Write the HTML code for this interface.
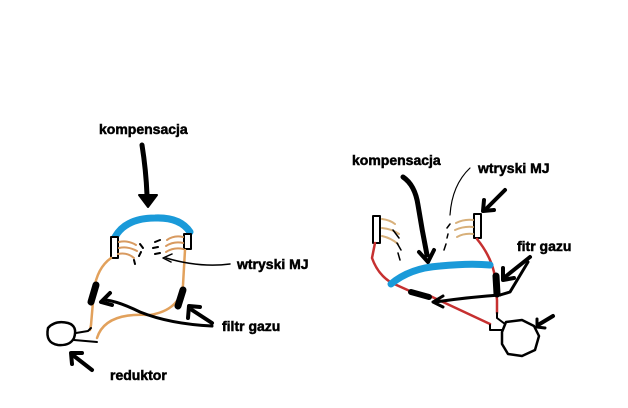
<!DOCTYPE html>
<html><head><style>
html,body{margin:0;padding:0;background:#fff;}
svg{display:block;}
text{font-family:"Liberation Sans",Arial,sans-serif;font-weight:bold;font-size:14px;fill:#000;stroke:#000;stroke-width:0.5px;}
</style></head><body>
<svg width="628" height="408" viewBox="0 0 628 408" xmlns="http://www.w3.org/2000/svg">
<text x="99" y="134">kompensacja</text>
<text x="237" y="269">wtryski MJ</text>
<text x="222" y="331">filtr gazu</text>
<text x="110" y="380">reduktor</text>
<text x="352" y="165">kompensacja</text>
<text x="478" y="173">wtryski MJ</text>
<text x="517" y="251">fitr gazu</text>
<g fill="none" stroke-linecap="round" stroke-linejoin="round">
<!-- LEFT DIAGRAM -->
<path d="M142 145 Q146 170 147 195" stroke="#000" stroke-width="5"/>
<path d="M139 195 L157 195 L148 207 Z" fill="#000" stroke="#000" stroke-width="2"/>
<path d="M115 237 Q126 218 155 218 Q180 217 190 232" stroke="#1a9ad9" stroke-width="7"/>
<rect x="111" y="237" width="7" height="21" stroke="#000" stroke-width="2" fill="#fff"/>
<rect x="184" y="234" width="7" height="15" stroke="#000" stroke-width="2" fill="#fff"/>
<path d="M119 242 Q128 240 136 245 M119 248 Q128 246 137 251 M118 254 Q127 252 134 258" stroke="#d89a60" stroke-width="2"/>
<path d="M183 237 Q174 235 167 240 M183 243 Q174 241 166 246 M183 249 Q174 247 166 252" stroke="#d89a60" stroke-width="2"/>
<path d="M140 244 L143 248 M141 252 L139 256 M134 260 L135 264 M160 240 L155 242 M158 247 L153 248 M160 253 L155 254" stroke="#000" stroke-width="2"/>
<path d="M111 258 Q97 268 94 290 L91 325 L90 330" stroke="#e2a15c" stroke-width="2.5"/>
<path d="M185 250 L183 285 Q180 310 150 315 Q105 312 97 338" stroke="#e2a15c" stroke-width="2.5"/>
<path d="M96 285 L91 302" stroke="#000" stroke-width="7"/>
<path d="M183 290 L178 306" stroke="#000" stroke-width="7"/>
<path d="M48 328 Q55 320 68 323 Q78 326 74 338 Q70 346 58 345 Q45 343 48 328 Z" stroke="#000" stroke-width="2.5"/>
<path d="M76 333 L88 331 L91 328 M74 340 L97 342" stroke="#000" stroke-width="2"/>
<path d="M230 264 Q200 268 166 258" stroke="#000" stroke-width="1.5"/>
<path d="M172 254 L163 258 L171 262" stroke="#000" stroke-width="1.5"/>
<path d="M212 326 Q170 324 140 312 Q120 302 106 300" stroke="#000" stroke-width="3"/>
<path d="M110 293 L101 302 L112 305" stroke="#000" stroke-width="4"/>
<path d="M212 323 L192 310" stroke="#000" stroke-width="4"/>
<path d="M188 318 L189 306 L200 307" stroke="#000" stroke-width="4"/>
<path d="M92 370 L74 356" stroke="#000" stroke-width="4"/>
<path d="M72 364 L71 353 L82 353" stroke="#000" stroke-width="4"/>

<!-- RIGHT DIAGRAM -->
<path d="M403 177 Q415 185 418 205 Q422 230 427 255" stroke="#000" stroke-width="5"/>
<path d="M419 252 L428 262 L434 250" stroke="#000" stroke-width="4"/>
<path d="M470 168 Q452 185 450 215" stroke="#000" stroke-width="1.2"/>
<rect x="373" y="216" width="7" height="27" stroke="#000" stroke-width="2" fill="#fff"/>
<rect x="474" y="214" width="7" height="24" stroke="#000" stroke-width="2" fill="#fff"/>
<path d="M382 219 Q390 220 395 224 M382 228 Q392 229 399 234 M382 236 Q391 238 398 244" stroke="#d8b07a" stroke-width="2"/>
<path d="M473 220 Q464 219 456 223 M473 227 Q464 226 455 230 M473 234 Q464 233 457 237" stroke="#d8b07a" stroke-width="2"/>
<path d="M393 230 L399 238 M397 243 L401 250 M398 253 L400 260 M450 224 L447 228 M448 234 L447 238 M446 244 L444 250" stroke="#000" stroke-width="1.5"/>
<path d="M505 190 L487 208" stroke="#000" stroke-width="4"/>
<path d="M484 200 L483 211 L494 210" stroke="#000" stroke-width="4"/>
<path d="M375 243 L372 258 Q378 275 392 283 L412 292 M428 295 Q460 310 490 324" stroke="#c63030" stroke-width="2.5"/>
<path d="M477 239 Q490 255 494 272 L497 300 L497 313" stroke="#c63030" stroke-width="2.5"/>
<path d="M391 284 Q410 268 440 266 Q470 263 490 265" stroke="#1a9ad9" stroke-width="7"/>
<path d="M411 292 L429 297" stroke="#000" stroke-width="6"/>
<path d="M496 276 L497 294" stroke="#000" stroke-width="7"/>
<path d="M500 295 Q470 297 435 302" stroke="#000" stroke-width="3"/>
<path d="M443 296 L433 302 L443 307" stroke="#000" stroke-width="3"/>
<path d="M500 295 L510 292 L528 262" stroke="#000" stroke-width="3"/>
<path d="M530 257 L505 277" stroke="#000" stroke-width="4"/>
<path d="M503 268 L503 280 L514 278" stroke="#000" stroke-width="4"/>
<path d="M506 322 L522 320 L534 326 L539 336 L535 350 L522 356 L508 354 L502 344 L502 332 Z" stroke="#000" stroke-width="2.5"/>
<path d="M497 313 L497 318 L505 324 M490 325 L490 330 L502 330" stroke="#000" stroke-width="2"/>
<path d="M553 316 L538 325" stroke="#000" stroke-width="4"/>
<path d="M537 319 L537 327 L545 328" stroke="#000" stroke-width="3"/>
</g>
</svg>
</body></html>
